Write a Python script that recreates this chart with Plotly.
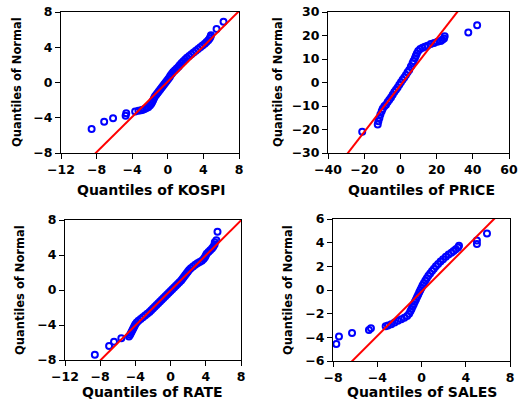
import plotly.graph_objects as go

# ---------------- data ----------------
kospi_x = [-8.56, -7.15, -6.15, -4.74, -4.67, -3.67, -3.3, -3.0, -2.8, -2.6, -2.4, -2.2, -2.0,
           -1.85, -1.75, -1.65, -1.55, -1.45, -1.3, -1.15, -1.0, -0.85, -0.7, -0.55, -0.4, -0.25,
           -0.1, 0.05, 0.2, 0.3, 0.45, 0.6, 0.8, 1.0, 1.2, 1.35, 1.55, 1.75, 1.95, 2.15, 2.4, 2.65,
           2.9, 3.15, 3.4, 3.65, 3.9, 4.15, 4.35, 4.55, 4.7, 4.8, 4.85, 5.48, 6.26]
kospi_y = [-5.27, -4.44, -4.07, -3.77, -3.5, -3.28, -3.2, -3.15, -3.1, -3.0, -2.9, -2.8, -2.6,
           -2.4, -2.2, -2.0, -1.8, -1.6, -1.4, -1.2, -1.0, -0.8, -0.6, -0.4, -0.2, 0.0,
           0.2, 0.4, 0.6, 0.8, 1.0, 1.2, 1.4, 1.6, 1.8, 2.0, 2.2, 2.4, 2.6, 2.8, 3.0, 3.2,
           3.4, 3.6, 3.8, 4.0, 4.2, 4.4, 4.6, 4.8, 5.0, 5.2, 5.37, 6.08, 6.9]

price_x = [-21.1, -12.53, -12.16, -11.61, -11.06, -10.33, -9.78, -8.86, -7.95, -7.03, -6.12,
           -5.20, -4.29, -3.37, -2.45, -1.54, -0.62, 0.29, 1.21, 2.12, 3.04, 3.96, 4.87, 5.79,
           6.70, 7.25, 7.99, 8.53, 9.08, 9.82, 10.92, 12.2, 13.48, 14.95, 16.78, 18.6, 20.44,
           22.27, 23.19, 24.1, 24.47, 37.5, 42.4]
price_y = [-21.0, -17.89, -16.48, -15.07, -13.66, -12.25, -11.13, -10.14, -9.44, -8.31, -7.32,
           -6.34, -5.21, -4.08, -3.1, -2.11, -0.99, 0.14, 1.13, 2.11, 3.24, 4.37, 5.35, 6.76,
           8.17, 9.15, 10.28, 11.41, 12.39, 13.38, 14.23, 14.79, 15.21, 15.63, 16.34, 16.76, 17.32,
           17.61, 18.17, 18.73, 19.72, 21.3, 24.4]

rate_x = [-8.61, -6.99, -6.43, -5.6, -4.73, -4.6, -4.5, -4.4, -4.3, -4.2, -4.1, -4.0, -3.85,
          -3.65, -3.4, -3.15, -2.9, -2.65, -2.4, -2.2, -2.0, -1.8, -1.6, -1.4, -1.2, -1.0, -0.8,
          -0.6, -0.4, -0.2, 0.0, 0.2, 0.4, 0.6, 0.8, 1.0, 1.2, 1.35, 1.5, 1.65, 1.8, 1.95, 2.1,
          2.3, 2.55, 2.8, 3.05, 3.3, 3.55, 3.75, 3.9, 4.0, 4.1, 4.3, 4.5, 4.7, 4.85, 5.0, 5.02,
          5.2, 5.33]
rate_y = [-7.39, -6.4, -5.9, -5.52, -5.3, -5.1, -4.9, -4.7, -4.5, -4.3, -4.1, -3.9, -3.7,
          -3.5, -3.3, -3.1, -2.9, -2.7, -2.5, -2.3, -2.1, -1.9, -1.7, -1.5, -1.3, -1.1, -0.9,
          -0.7, -0.5, -0.3, -0.1, 0.1, 0.3, 0.5, 0.7, 0.9, 1.1, 1.3, 1.5, 1.7, 1.9, 2.1, 2.3,
          2.5, 2.7, 2.9, 3.05, 3.2, 3.35, 3.55, 3.75, 3.95, 4.15, 4.35, 4.55, 4.75, 4.95, 5.2, 5.45,
          5.7, 6.67]

sales_x = [-7.70, -7.46, -6.28, -4.75, -4.57, -3.24, -3.03, -2.73, -2.43, -2.13, -1.83, -1.55,
           -1.3, -1.12, -1.0, -0.9, -0.8, -0.7, -0.6, -0.5, -0.4, -0.3, -0.2, -0.1, 0.0, 0.1,
           0.22, 0.35, 0.48, 0.62, 0.78, 0.95, 1.12, 1.3, 1.5, 1.72, 1.95, 2.2, 2.45, 2.7, 2.9,
           3.1, 3.3, 3.39, 5.01, 5.01, 5.92]
sales_y = [-4.57, -3.94, -3.63, -3.38, -3.24, -3.07, -3.01, -2.9, -2.75, -2.6, -2.48, -2.35,
           -2.2, -2.0, -1.8, -1.6, -1.4, -1.2, -1.0, -0.8, -0.6, -0.4, -0.2, 0.0, 0.2, 0.4,
           0.6, 0.8, 1.0, 1.2, 1.4, 1.6, 1.8, 2.0, 2.2, 2.4, 2.6, 2.8, 3.0, 3.15, 3.3,
           3.45, 3.6, 3.73, 3.88, 4.19, 4.78]

# reference lines: (intercept, slope)
ref_lines = [(0.1, 1.0), (-1.2, 0.993), (-0.05, 1.0), (-0.14, 0.936)]

names = ["KOSPI", "PRICE", "RATE", "SALES"]
x_ranges = [[-12, 8], [-40, 60], [-12, 8], [-8, 8]]
y_ranges = [[-8, 8], [-30, 30], [-8, 8], [-6, 6]]
x_dticks = [4, 20, 4, 4]
y_dticks = [4, 10, 4, 2]

series = [(kospi_x, kospi_y), (price_x, price_y), (rate_x, rate_y), (sales_x, sales_y)]

# ---------------- layout geometry (pixels) ----------------
W, H = 525, 404
boxes = [(61, 239, 12, 153), (328, 509, 12, 153), (65, 241, 220, 360), (333, 510, 219, 361)]
xtitle_pos = [(151, 190), (421, 190), (152.5, 392), (422, 392)]
ytitle_pos = [(17, 82), (278, 82), (20, 290), (288, 290)]

fig = go.Figure()
FONT = "DejaVu Sans"

layout = dict(
    width=W, height=H,
    margin=dict(l=0, r=0, t=0, b=0, pad=0, autoexpand=False),
    paper_bgcolor="white", plot_bgcolor="white",
    showlegend=False,
    annotations=[],
)

for i in range(4):
    xs, ys = series[i]
    ax = "" if i == 0 else str(i + 1)
    fig.add_trace(go.Scatter(
        x=xs, y=ys, mode="markers",
        marker=dict(symbol="circle-open", size=6, color="#0000FF", line=dict(width=2, color="#0000FF")),
        xaxis="x" + ax, yaxis="y" + ax, cliponaxis=True,
    ))
    a, b = ref_lines[i]
    lx = [x_ranges[i][0] - (x_ranges[i][1] - x_ranges[i][0]), x_ranges[i][1] + (x_ranges[i][1] - x_ranges[i][0])]
    ly = [a + b * v for v in lx]
    fig.add_trace(go.Scatter(
        x=lx, y=ly, mode="lines", line=dict(color="#FF0000", width=2),
        xaxis="x" + ax, yaxis="y" + ax,
    ))
    x0, x1, y0, y1 = boxes[i]
    common = dict(showline=True, mirror=True, linecolor="black", linewidth=1,
                  ticks="outside", ticklen=5, tickwidth=1, tickcolor="black",
                  showgrid=False, zeroline=False, automargin=False,
                  tickfont=dict(family=FONT, size=12.5, color="black", weight="bold"))
    layout["xaxis" + ax] = dict(common, domain=[x0 / W, x1 / W], range=x_ranges[i],
                                 tick0=0, dtick=x_dticks[i], anchor="y" + ax)
    layout["yaxis" + ax] = dict(common, domain=[1 - y1 / H, 1 - y0 / H], range=y_ranges[i],
                                 tick0=0, dtick=y_dticks[i], anchor="x" + ax)
    tx, ty = xtitle_pos[i]
    layout["annotations"].append(dict(
        text="Quantiles of " + names[i], x=tx / W, y=1 - ty / H, xref="paper", yref="paper",
        xanchor="center", yanchor="middle", showarrow=False,
        font=dict(family=FONT, size=14, color="black", weight="bold")))
    vx, vy = ytitle_pos[i]
    layout["annotations"].append(dict(
        text="Quantiles of Normal", x=vx / W, y=1 - vy / H, xref="paper", yref="paper",
        xanchor="center", yanchor="middle", showarrow=False, textangle=-90,
        font=dict(family=FONT, size=11.5, color="black", weight="bold")))

fig.update_layout(**layout)
fig.write_html("out.html", config={"displayModeBar": False},
               post_script="document.body.style.margin='0';document.body.style.overflow='hidden';")
